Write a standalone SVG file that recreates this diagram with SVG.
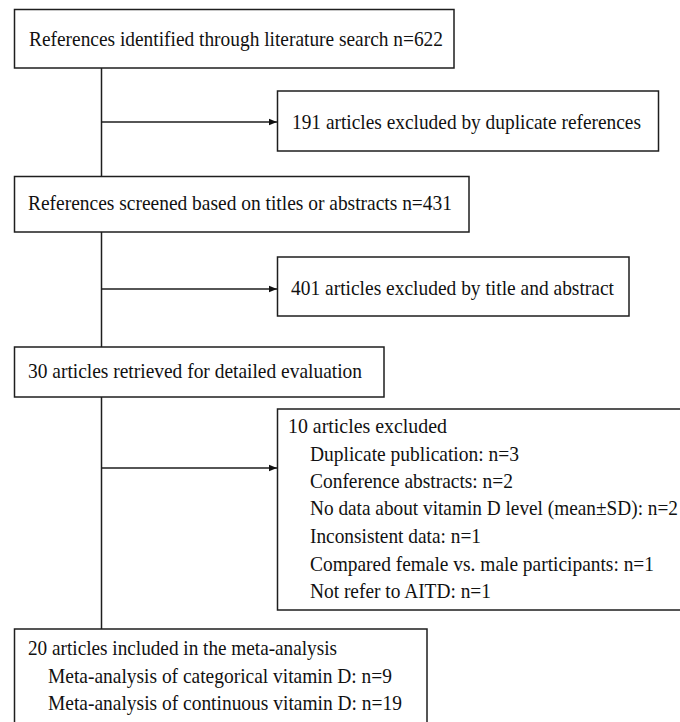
<svg xmlns="http://www.w3.org/2000/svg" width="680" height="722" viewBox="0 0 680 722">
<defs>
<style>
.box{fill:#fff;stroke:#1e1e1e;stroke-width:1.5}
.t{font-family:"Liberation Serif","Times New Roman",serif;font-size:21px;fill:#111}
.ln{fill:none;stroke:#1e1e1e;stroke-width:1.5}
</style>
<marker id="ah" viewBox="0 0 8 8" refX="8" refY="4" markerWidth="8" markerHeight="8" markerUnits="userSpaceOnUse" orient="auto">
<path d="M0,0.8 L8,4 L0,7.2 Z" fill="#111"/>
</marker>
</defs>
<rect width="680" height="722" fill="#fff"/>
<g id="connectors">
<line class="ln" x1="101.5" y1="68" x2="101.5" y2="629"/>
<line class="ln" x1="101.5" y1="122" x2="277" y2="122" marker-end="url(#ah)"/>
<line class="ln" x1="101.5" y1="289" x2="277" y2="289" marker-end="url(#ah)"/>
<line class="ln" x1="101.5" y1="468" x2="277" y2="468" marker-end="url(#ah)"/>
</g>
<g id="n1">
<rect class="box" x="14.5" y="9.5" width="439.5" height="58.5"/>
<text class="t" x="29" y="46" textLength="414" lengthAdjust="spacingAndGlyphs">References identified through literature search n=622</text>
</g>
<g id="n2">
<rect class="box" x="277.5" y="91" width="381" height="60"/>
<text class="t" x="292" y="129" textLength="349" lengthAdjust="spacingAndGlyphs">191 articles excluded by duplicate references</text>
</g>
<g id="n3">
<rect class="box" x="14.5" y="176.5" width="454.5" height="55.5"/>
<text class="t" x="28" y="210" textLength="424" lengthAdjust="spacingAndGlyphs">References screened based on titles or abstracts n=431</text>
</g>
<g id="n4">
<rect class="box" x="277.5" y="257" width="351.5" height="59"/>
<text class="t" x="291" y="295" textLength="323" lengthAdjust="spacingAndGlyphs">401 articles excluded by title and abstract</text>
</g>
<g id="n5">
<rect class="box" x="14.5" y="347" width="369.5" height="50"/>
<text class="t" x="28" y="378" textLength="334" lengthAdjust="spacingAndGlyphs">30 articles retrieved for detailed evaluation</text>
</g>
<g id="n6">
<rect class="box" x="277.5" y="409" width="420" height="201"/>
<text class="t" x="288" y="433" textLength="159" lengthAdjust="spacingAndGlyphs">10 articles excluded</text>
<text class="t" x="310" y="461" textLength="209" lengthAdjust="spacingAndGlyphs">Duplicate publication: n=3</text>
<text class="t" x="310" y="488" textLength="203" lengthAdjust="spacingAndGlyphs">Conference abstracts: n=2</text>
<text class="t" x="310" y="515" textLength="368" lengthAdjust="spacingAndGlyphs">No data about vitamin D level (mean±SD): n=2</text>
<text class="t" x="310" y="543" textLength="171" lengthAdjust="spacingAndGlyphs">Inconsistent data: n=1</text>
<text class="t" x="310" y="571" textLength="344" lengthAdjust="spacingAndGlyphs">Compared female vs. male participants: n=1</text>
<text class="t" x="310" y="598" textLength="181" lengthAdjust="spacingAndGlyphs">Not refer to AITD: n=1</text>
</g>
<g id="n7">
<rect class="box" x="14.5" y="629" width="412.5" height="100"/>
<text class="t" x="28" y="655" textLength="309" lengthAdjust="spacingAndGlyphs">20 articles included in the meta-analysis</text>
<text class="t" x="48" y="683" textLength="344" lengthAdjust="spacingAndGlyphs">Meta-analysis of categorical vitamin D: n=9</text>
<text class="t" x="48" y="710" textLength="354" lengthAdjust="spacingAndGlyphs">Meta-analysis of continuous vitamin D: n=19</text>
</g>
</svg>
